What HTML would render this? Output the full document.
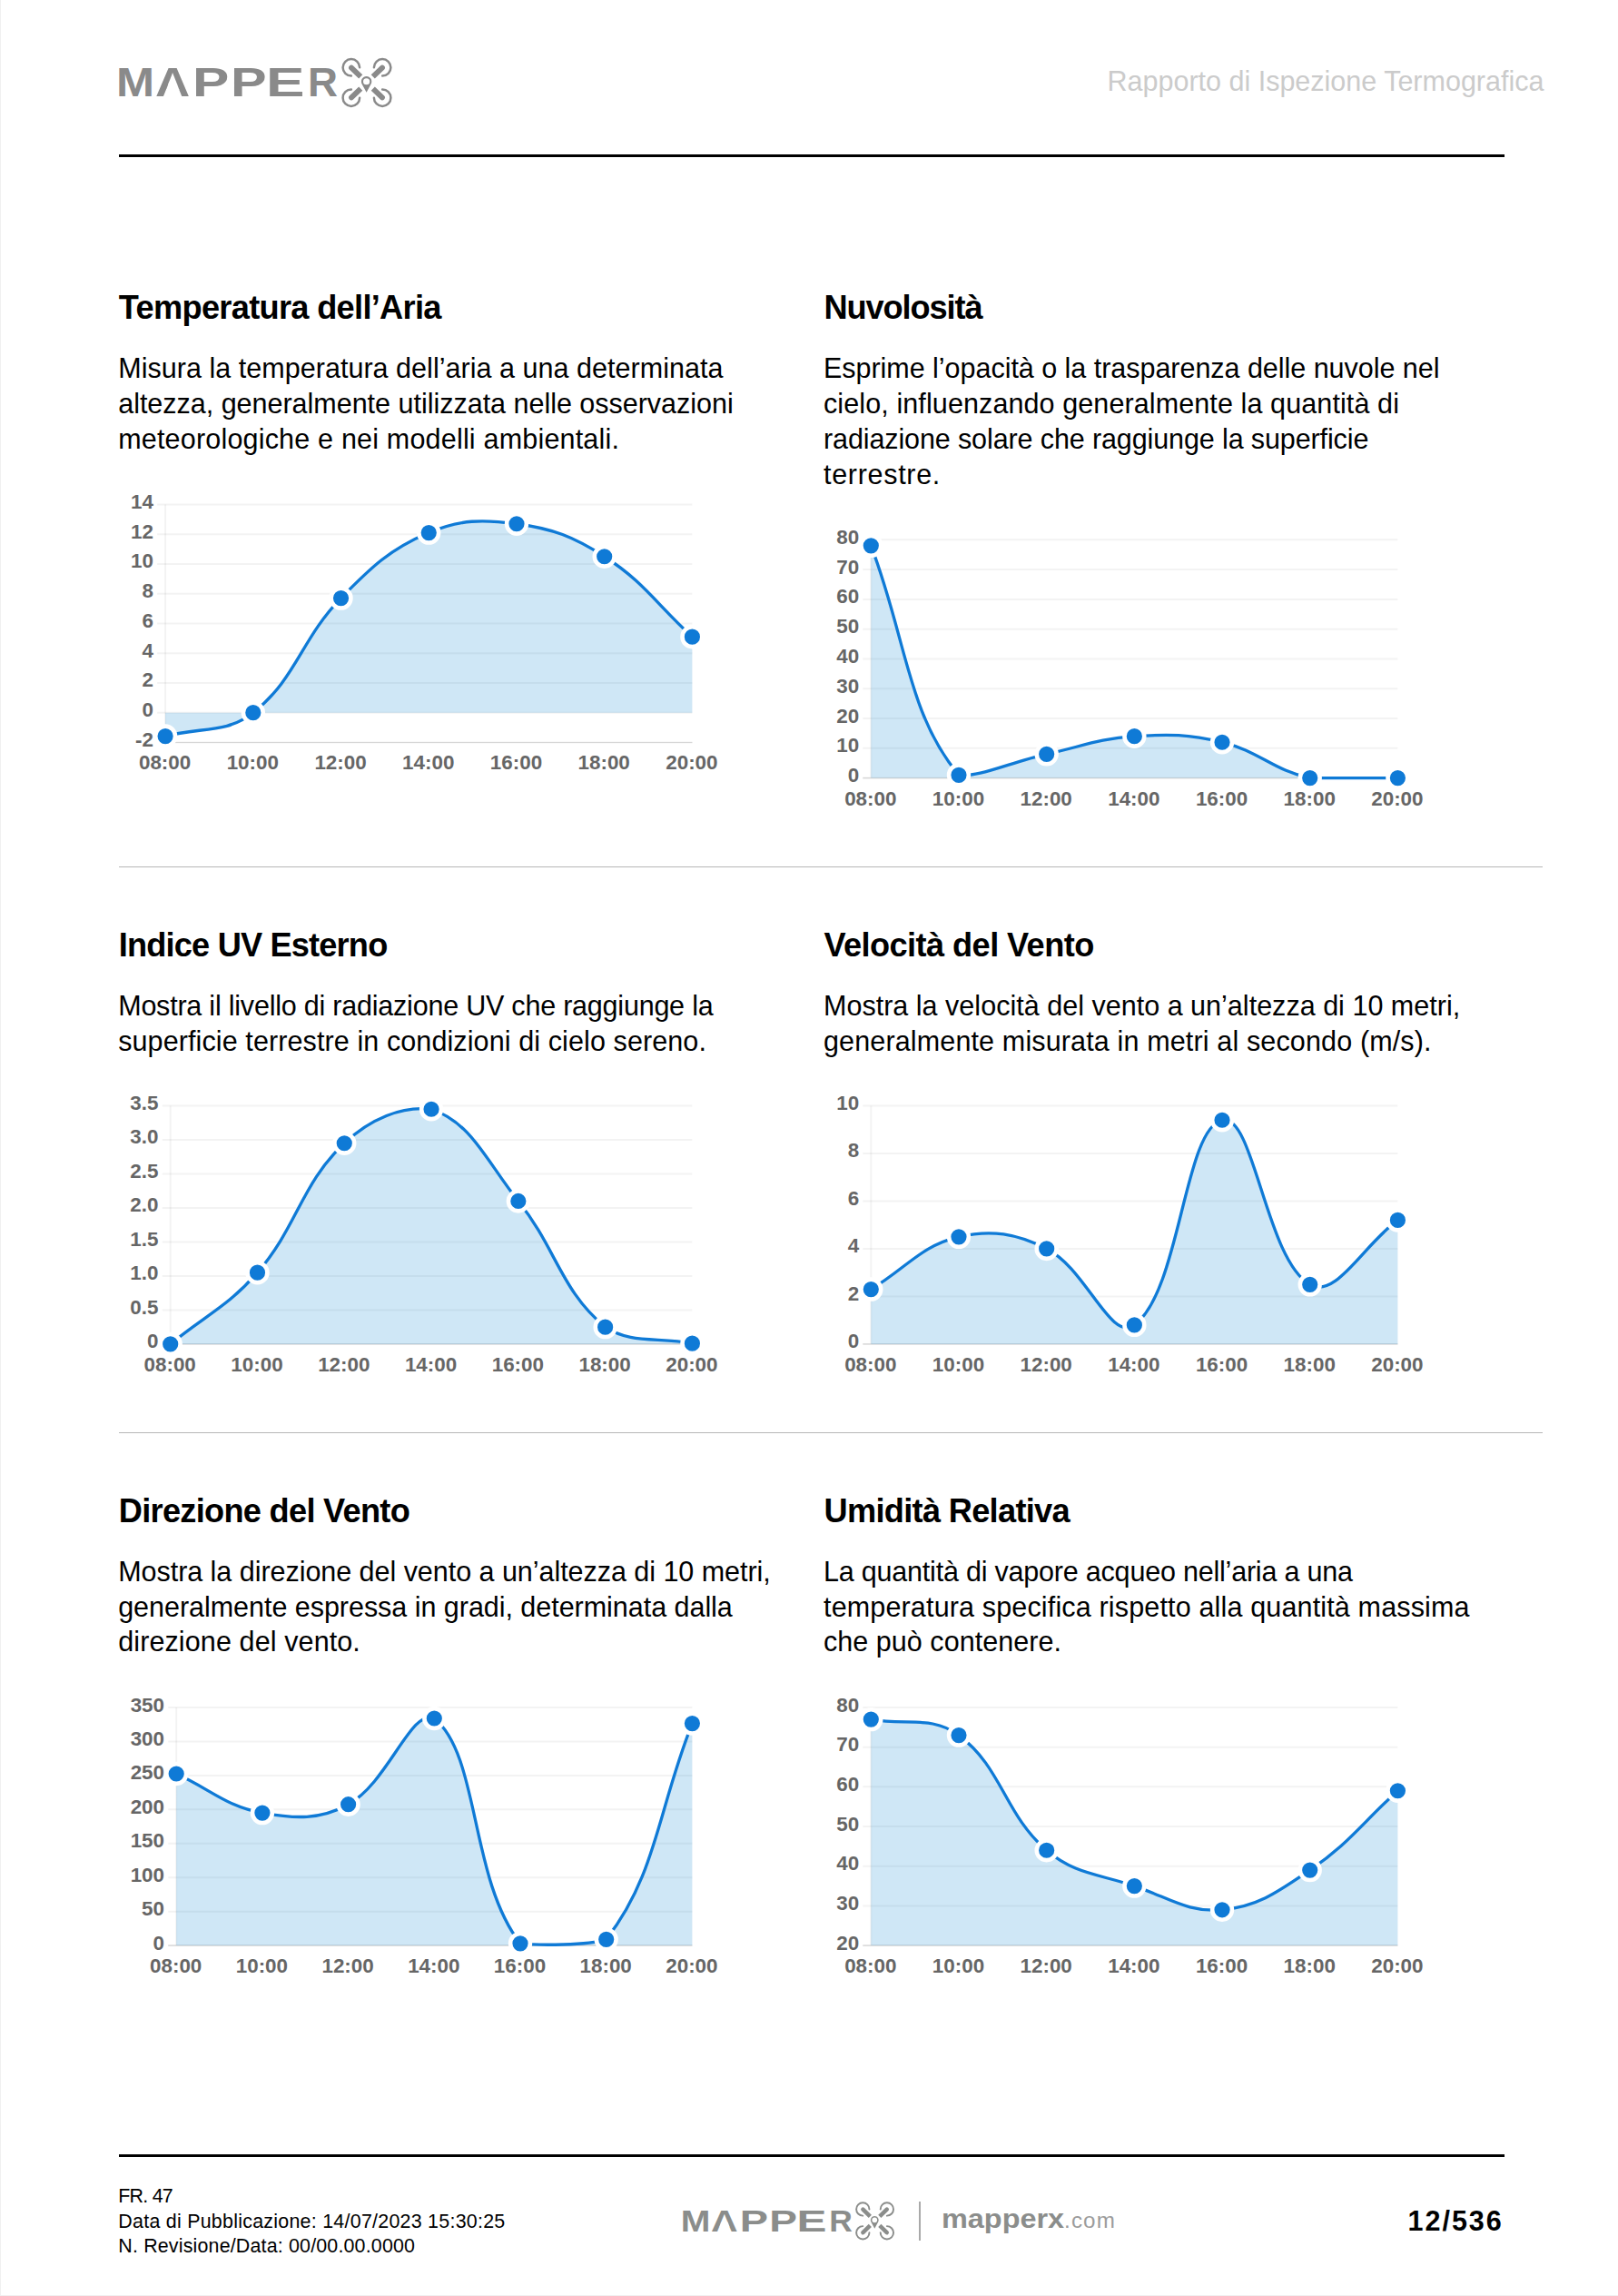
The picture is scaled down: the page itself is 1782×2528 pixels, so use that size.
<!DOCTYPE html>
<html lang="it"><head><meta charset="utf-8"><title>Rapporto di Ispezione Termografica</title>
<style>
html,body{margin:0;padding:0;background:#fff;}
h2,p{margin:0;padding:0;font-size:inherit;font-weight:inherit;}
body{width:1782px;height:2528px;position:relative;overflow:hidden;font-family:'Liberation Sans',Arial,Helvetica,sans-serif;color:#000;}
.page{position:absolute;left:0;top:0;width:1781px;height:2527px;border-left:1px solid #f0f0f0;border-bottom:1px solid #f0f0f0;box-sizing:content-box;}
.t{position:absolute;white-space:nowrap;margin:0;padding:0;}
.h{font-weight:700;}
.abs,.chart{position:absolute;overflow:visible;}
.rule{position:absolute;background:#000;height:3px;}
.sep{position:absolute;background:#b7b7b7;height:1.2px;}
.logo{position:absolute;width:0;height:0;font-weight:700;transform-origin:0 0;}
.logo .lw span{position:absolute;transform-origin:0 0;white-space:nowrap;}
</style></head><body><div class="page"></div>

<header>
<div class="logo" style="left:131.20px;top:106.00px;transform:scale(1.0);color:#8a8a8a"><span class="lw"><span style="left:-3.38px;top:-40.11px;font-size:43.6px;line-height:50px;transform:scaleX(1.158)">M</span><span style="left:40.08px;top:-40.11px;font-size:43.6px;line-height:50px;transform:scaleX(1.214)">A</span><span style="left:81.06px;top:-40.11px;font-size:43.6px;line-height:50px;transform:scaleX(1.386)">P</span><span style="left:123.13px;top:-40.11px;font-size:43.6px;line-height:50px;transform:scaleX(1.362)">P</span><span style="left:161.94px;top:-40.11px;font-size:43.6px;line-height:50px;transform:scaleX(1.460)">E</span><span style="left:208.04px;top:-40.11px;font-size:43.6px;line-height:50px;transform:scaleX(1.048)">R</span></span><svg style="position:absolute;left:0;top:-40px;overflow:visible" width="250" height="50" viewBox="0 -40 250 50"><polygon points="51.94,-6.94 66.44,-6.94 64.11,-13.16 54.27,-13.16" fill="#fff"/></svg><svg style="position:absolute;left:245.30px;top:-43.45px;overflow:visible" width="56" height="56" viewBox="-28 -28 56 56"><g fill="none" stroke="#8a8a8a" stroke-width="2.5" stroke-linecap="round"><path d="M-7.899999999999999,-16.65 A9.25,9.25 0 1 0 -17.15,-7.399999999999999"/><path d="M7.899999999999999,-16.65 A9.25,9.25 0 1 1 17.15,-7.399999999999999"/><path d="M-7.899999999999999,16.65 A9.25,9.25 0 1 1 -17.15,7.399999999999999"/><path d="M7.899999999999999,16.65 A9.25,9.25 0 1 0 17.15,7.399999999999999"/></g><g fill="#8a8a8a"><path d="M9.4,-2.95 L23.6,-2.95 A2.95,2.95 0 0 1 23.6,2.95 L9.4,2.95 Z" transform="rotate(44)"/><path d="M9.4,-2.95 L23.6,-2.95 A2.95,2.95 0 0 1 23.6,2.95 L9.4,2.95 Z" transform="rotate(136)"/><path d="M9.4,-2.95 L23.6,-2.95 A2.95,2.95 0 0 1 23.6,2.95 L9.4,2.95 Z" transform="rotate(224)"/><path d="M9.4,-2.95 L23.6,-2.95 A2.95,2.95 0 0 1 23.6,2.95 L9.4,2.95 Z" transform="rotate(316)"/><path d="M-0.4,10.65 L-5.40,1.48 A5.7,5.7 0 1 1 4.60,1.48 Z" stroke="#fff" stroke-width="2" paint-order="stroke" stroke-linejoin="round"/><circle cx="-0.4" cy="-1.25" r="3.6" fill="#fff"/></g></svg></div>
<span class="t " style="left:1219.5px;top:71px;font-size:30.5px;line-height:36px;letter-spacing:0.000px;color:#cbcbcb;">Rapporto di Ispezione Termografica</span>
<div class="rule" style="left:130.6px;top:170px;width:1526.4px"></div>
</header>
<section>
<h2><span class="t h" style="left:130.8px;top:317px;font-size:36.2px;line-height:43px;letter-spacing:-0.685px;">Temperatura dell’Aria</span></h2>
<p>
<span class="t " style="left:130.2px;top:387px;font-size:30.5px;line-height:36px;letter-spacing:0.036px;">Misura la temperatura dell’aria a una determinata</span>
<span class="t " style="left:130.2px;top:426px;font-size:30.5px;line-height:36px;letter-spacing:-0.012px;">altezza, generalmente utilizzata nelle osservazioni</span>
<span class="t " style="left:130.2px;top:465px;font-size:30.5px;line-height:36px;letter-spacing:0.193px;">meteorologiche e nei modelli ambientali.</span>
</p>
<svg class="chart" style="left:102px;top:525px" width="731" height="352" viewBox="0 0 731 352">
<g stroke="rgba(0,0,0,0.047)" stroke-width="2" fill="none">
<line x1="71.1" y1="30.45" x2="660.4" y2="30.45"/>
<line x1="71.1" y1="63.20" x2="660.4" y2="63.20"/>
<line x1="71.1" y1="95.95" x2="660.4" y2="95.95"/>
<line x1="71.1" y1="128.70" x2="660.4" y2="128.70"/>
<line x1="71.1" y1="161.45" x2="660.4" y2="161.45"/>
<line x1="71.1" y1="194.20" x2="660.4" y2="194.20"/>
<line x1="71.1" y1="226.95" x2="660.4" y2="226.95"/>
<line x1="71.1" y1="259.70" x2="660.4" y2="259.70"/>
<line x1="71.1" y1="292.45" x2="660.4" y2="292.45"/>
<line x1="80.1" y1="30.5" x2="80.1" y2="292.5"/>
</g>
<line x1="71.1" y1="292.45" x2="660.4" y2="292.45" stroke="#d6d6d6" stroke-width="1.1"/>
<path d="M80.10,285.57 C118.79,275.22 146.91,283.19 176.82,259.70 C224.28,222.41 229.54,178.67 273.53,133.61 C306.92,99.42 327.41,79.70 370.25,61.56 C404.78,46.95 429.44,46.65 466.97,51.74 C506.81,57.13 529.59,65.83 563.68,87.76 C606.97,115.61 621.71,140.82 660.40,176.19 L660.40,259.70 L80.10,259.70 Z" fill="rgba(15,135,212,0.2)"/>
<path d="M80.10,285.57 C118.79,275.22 146.91,283.19 176.82,259.70 C224.28,222.41 229.54,178.67 273.53,133.61 C306.92,99.42 327.41,79.70 370.25,61.56 C404.78,46.95 429.44,46.65 466.97,51.74 C506.81,57.13 529.59,65.83 563.68,87.76 C606.97,115.61 621.71,140.82 660.40,176.19" fill="none" stroke="#0f7ad6" stroke-width="3.3" stroke-linecap="butt" stroke-linejoin="round"/>
<circle cx="80.10" cy="285.57" r="10.9" fill="#0f7ad6" stroke="#fff" stroke-width="4.6"/>
<circle cx="176.82" cy="259.70" r="10.9" fill="#0f7ad6" stroke="#fff" stroke-width="4.6"/>
<circle cx="273.53" cy="133.61" r="10.9" fill="#0f7ad6" stroke="#fff" stroke-width="4.6"/>
<circle cx="370.25" cy="61.56" r="10.9" fill="#0f7ad6" stroke="#fff" stroke-width="4.6"/>
<circle cx="466.97" cy="51.74" r="10.9" fill="#0f7ad6" stroke="#fff" stroke-width="4.6"/>
<circle cx="563.68" cy="87.76" r="10.9" fill="#0f7ad6" stroke="#fff" stroke-width="4.6"/>
<circle cx="660.40" cy="176.19" r="10.9" fill="#0f7ad6" stroke="#fff" stroke-width="4.6"/>
<g font-family="'Liberation Sans', Arial, Helvetica, sans-serif" font-weight="700" font-size="22.4" fill="#666">
<text x="66.9" y="34.95" text-anchor="end">14</text>
<text x="66.9" y="67.70" text-anchor="end">12</text>
<text x="66.9" y="100.45" text-anchor="end">10</text>
<text x="66.9" y="133.20" text-anchor="end">8</text>
<text x="66.9" y="165.95" text-anchor="end">6</text>
<text x="66.9" y="198.70" text-anchor="end">4</text>
<text x="66.9" y="231.45" text-anchor="end">2</text>
<text x="66.9" y="264.20" text-anchor="end">0</text>
<text x="66.9" y="296.95" text-anchor="end">-2</text>
<text x="79.60" y="322.45" text-anchor="middle">08:00</text>
<text x="176.32" y="322.45" text-anchor="middle">10:00</text>
<text x="273.03" y="322.45" text-anchor="middle">12:00</text>
<text x="369.75" y="322.45" text-anchor="middle">14:00</text>
<text x="466.47" y="322.45" text-anchor="middle">16:00</text>
<text x="563.18" y="322.45" text-anchor="middle">18:00</text>
<text x="659.90" y="322.45" text-anchor="middle">20:00</text>
</g></svg>
</section>
<section>
<h2><span class="t h" style="left:907.5px;top:317px;font-size:36.2px;line-height:43px;letter-spacing:-1.098px;">Nuvolosità</span></h2>
<p>
<span class="t " style="left:907.0px;top:387px;font-size:30.5px;line-height:36px;letter-spacing:-0.028px;">Esprime l’opacità o la trasparenza delle nuvole nel</span>
<span class="t " style="left:907.0px;top:426px;font-size:30.5px;line-height:36px;letter-spacing:0.105px;">cielo, influenzando generalmente la quantità di</span>
<span class="t " style="left:907.0px;top:465px;font-size:30.5px;line-height:36px;letter-spacing:-0.112px;">radiazione solare che raggiunge la superficie</span>
<span class="t " style="left:907.0px;top:504px;font-size:30.5px;line-height:36px;letter-spacing:0.702px;">terrestre.</span>
</p>
<svg class="chart" style="left:879px;top:564px" width="731" height="353" viewBox="0 0 731 353">
<g stroke="rgba(0,0,0,0.047)" stroke-width="2" fill="none">
<line x1="71.3" y1="30.30" x2="660.4" y2="30.30"/>
<line x1="71.3" y1="63.09" x2="660.4" y2="63.09"/>
<line x1="71.3" y1="95.88" x2="660.4" y2="95.88"/>
<line x1="71.3" y1="128.66" x2="660.4" y2="128.66"/>
<line x1="71.3" y1="161.45" x2="660.4" y2="161.45"/>
<line x1="71.3" y1="194.24" x2="660.4" y2="194.24"/>
<line x1="71.3" y1="227.02" x2="660.4" y2="227.02"/>
<line x1="71.3" y1="259.81" x2="660.4" y2="259.81"/>
<line x1="71.3" y1="292.60" x2="660.4" y2="292.60"/>
<line x1="80.3" y1="30.3" x2="80.3" y2="292.6"/>
</g>
<line x1="71.3" y1="292.60" x2="660.4" y2="292.60" stroke="#d6d6d6" stroke-width="1.1"/>
<path d="M80.30,36.86 C118.97,137.84 120.43,222.19 176.98,289.32 C197.77,292.60 234.86,274.93 273.67,266.37 C312.20,257.88 331.33,249.34 370.35,246.70 C408.68,244.10 429.80,244.42 467.03,253.25 C507.14,262.78 523.56,284.43 563.72,292.60 C600.91,292.60 621.73,292.60 660.40,292.60 L660.40,292.60 L80.30,292.60 Z" fill="rgba(15,135,212,0.2)"/>
<path d="M80.30,36.86 C118.97,137.84 120.43,222.19 176.98,289.32 C197.77,292.60 234.86,274.93 273.67,266.37 C312.20,257.88 331.33,249.34 370.35,246.70 C408.68,244.10 429.80,244.42 467.03,253.25 C507.14,262.78 523.56,284.43 563.72,292.60 C600.91,292.60 621.73,292.60 660.40,292.60" fill="none" stroke="#0f7ad6" stroke-width="3.3" stroke-linecap="butt" stroke-linejoin="round"/>
<circle cx="80.30" cy="36.86" r="10.9" fill="#0f7ad6" stroke="#fff" stroke-width="4.6"/>
<circle cx="176.98" cy="289.32" r="10.9" fill="#0f7ad6" stroke="#fff" stroke-width="4.6"/>
<circle cx="273.67" cy="266.37" r="10.9" fill="#0f7ad6" stroke="#fff" stroke-width="4.6"/>
<circle cx="370.35" cy="246.70" r="10.9" fill="#0f7ad6" stroke="#fff" stroke-width="4.6"/>
<circle cx="467.03" cy="253.25" r="10.9" fill="#0f7ad6" stroke="#fff" stroke-width="4.6"/>
<circle cx="563.72" cy="292.60" r="10.9" fill="#0f7ad6" stroke="#fff" stroke-width="4.6"/>
<circle cx="660.40" cy="292.60" r="10.9" fill="#0f7ad6" stroke="#fff" stroke-width="4.6"/>
<g font-family="'Liberation Sans', Arial, Helvetica, sans-serif" font-weight="700" font-size="22.4" fill="#666">
<text x="67.1" y="34.80" text-anchor="end">80</text>
<text x="67.1" y="67.59" text-anchor="end">70</text>
<text x="67.1" y="100.38" text-anchor="end">60</text>
<text x="67.1" y="133.16" text-anchor="end">50</text>
<text x="67.1" y="165.95" text-anchor="end">40</text>
<text x="67.1" y="198.74" text-anchor="end">30</text>
<text x="67.1" y="231.52" text-anchor="end">20</text>
<text x="67.1" y="264.31" text-anchor="end">10</text>
<text x="67.1" y="297.10" text-anchor="end">0</text>
<text x="79.80" y="322.60" text-anchor="middle">08:00</text>
<text x="176.48" y="322.60" text-anchor="middle">10:00</text>
<text x="273.17" y="322.60" text-anchor="middle">12:00</text>
<text x="369.85" y="322.60" text-anchor="middle">14:00</text>
<text x="466.53" y="322.60" text-anchor="middle">16:00</text>
<text x="563.22" y="322.60" text-anchor="middle">18:00</text>
<text x="659.90" y="322.60" text-anchor="middle">20:00</text>
</g></svg>
</section>
<section>
<h2><span class="t h" style="left:130.8px;top:1019px;font-size:36.2px;line-height:43px;letter-spacing:-0.827px;">Indice UV Esterno</span></h2>
<p>
<span class="t " style="left:130.2px;top:1089px;font-size:30.5px;line-height:36px;letter-spacing:-0.216px;">Mostra il livello di radiazione UV che raggiunge la</span>
<span class="t " style="left:130.2px;top:1128px;font-size:30.5px;line-height:36px;letter-spacing:0.104px;">superficie terrestre in condizioni di cielo sereno.</span>
</p>
<svg class="chart" style="left:107px;top:1187px" width="725" height="353" viewBox="0 0 725 353">
<g stroke="rgba(0,0,0,0.047)" stroke-width="2" fill="none">
<line x1="71.7" y1="30.50" x2="655.4" y2="30.50"/>
<line x1="71.7" y1="67.99" x2="655.4" y2="67.99"/>
<line x1="71.7" y1="105.47" x2="655.4" y2="105.47"/>
<line x1="71.7" y1="142.96" x2="655.4" y2="142.96"/>
<line x1="71.7" y1="180.44" x2="655.4" y2="180.44"/>
<line x1="71.7" y1="217.93" x2="655.4" y2="217.93"/>
<line x1="71.7" y1="255.41" x2="655.4" y2="255.41"/>
<line x1="71.7" y1="292.90" x2="655.4" y2="292.90"/>
<line x1="80.7" y1="30.5" x2="80.7" y2="292.9"/>
</g>
<line x1="71.7" y1="292.90" x2="655.4" y2="292.90" stroke="#d6d6d6" stroke-width="1.1"/>
<path d="M80.70,292.90 C119.01,261.41 144.35,251.28 176.48,214.18 C220.97,162.81 224.35,116.74 272.27,71.73 C300.98,44.77 335.51,30.50 368.05,34.25 C412.14,48.91 429.15,92.03 463.83,135.46 C505.78,187.99 511.06,234.44 559.62,274.16 C587.69,292.90 617.09,284.95 655.40,292.15 L655.40,292.90 L80.70,292.90 Z" fill="rgba(15,135,212,0.2)"/>
<path d="M80.70,292.90 C119.01,261.41 144.35,251.28 176.48,214.18 C220.97,162.81 224.35,116.74 272.27,71.73 C300.98,44.77 335.51,30.50 368.05,34.25 C412.14,48.91 429.15,92.03 463.83,135.46 C505.78,187.99 511.06,234.44 559.62,274.16 C587.69,292.90 617.09,284.95 655.40,292.15" fill="none" stroke="#0f7ad6" stroke-width="3.3" stroke-linecap="butt" stroke-linejoin="round"/>
<circle cx="80.70" cy="292.90" r="10.9" fill="#0f7ad6" stroke="#fff" stroke-width="4.6"/>
<circle cx="176.48" cy="214.18" r="10.9" fill="#0f7ad6" stroke="#fff" stroke-width="4.6"/>
<circle cx="272.27" cy="71.73" r="10.9" fill="#0f7ad6" stroke="#fff" stroke-width="4.6"/>
<circle cx="368.05" cy="34.25" r="10.9" fill="#0f7ad6" stroke="#fff" stroke-width="4.6"/>
<circle cx="463.83" cy="135.46" r="10.9" fill="#0f7ad6" stroke="#fff" stroke-width="4.6"/>
<circle cx="559.62" cy="274.16" r="10.9" fill="#0f7ad6" stroke="#fff" stroke-width="4.6"/>
<circle cx="655.40" cy="292.15" r="10.9" fill="#0f7ad6" stroke="#fff" stroke-width="4.6"/>
<g font-family="'Liberation Sans', Arial, Helvetica, sans-serif" font-weight="700" font-size="22.4" fill="#666">
<text x="67.5" y="35.00" text-anchor="end">3.5</text>
<text x="67.5" y="72.49" text-anchor="end">3.0</text>
<text x="67.5" y="109.97" text-anchor="end">2.5</text>
<text x="67.5" y="147.46" text-anchor="end">2.0</text>
<text x="67.5" y="184.94" text-anchor="end">1.5</text>
<text x="67.5" y="222.43" text-anchor="end">1.0</text>
<text x="67.5" y="259.91" text-anchor="end">0.5</text>
<text x="67.5" y="297.40" text-anchor="end">0</text>
<text x="80.20" y="322.90" text-anchor="middle">08:00</text>
<text x="175.98" y="322.90" text-anchor="middle">10:00</text>
<text x="271.77" y="322.90" text-anchor="middle">12:00</text>
<text x="367.55" y="322.90" text-anchor="middle">14:00</text>
<text x="463.33" y="322.90" text-anchor="middle">16:00</text>
<text x="559.12" y="322.90" text-anchor="middle">18:00</text>
<text x="654.90" y="322.90" text-anchor="middle">20:00</text>
</g></svg>
</section>
<section>
<h2><span class="t h" style="left:907.5px;top:1019px;font-size:36.2px;line-height:43px;letter-spacing:-0.585px;">Velocità del Vento</span></h2>
<p>
<span class="t " style="left:907.0px;top:1089px;font-size:30.5px;line-height:36px;letter-spacing:0.020px;">Mostra la velocità del vento a un’altezza di 10 metri,</span>
<span class="t " style="left:907.0px;top:1128px;font-size:30.5px;line-height:36px;letter-spacing:0.143px;">generalmente misurata in metri al secondo (m/s).</span>
</p>
<svg class="chart" style="left:879px;top:1187px" width="731" height="353" viewBox="0 0 731 353">
<g stroke="rgba(0,0,0,0.047)" stroke-width="2" fill="none">
<line x1="71.3" y1="30.50" x2="660.4" y2="30.50"/>
<line x1="71.3" y1="82.98" x2="660.4" y2="82.98"/>
<line x1="71.3" y1="135.46" x2="660.4" y2="135.46"/>
<line x1="71.3" y1="187.94" x2="660.4" y2="187.94"/>
<line x1="71.3" y1="240.42" x2="660.4" y2="240.42"/>
<line x1="71.3" y1="292.90" x2="660.4" y2="292.90"/>
<line x1="80.3" y1="30.5" x2="80.3" y2="292.9"/>
</g>
<line x1="71.3" y1="292.90" x2="660.4" y2="292.90" stroke="#d6d6d6" stroke-width="1.1"/>
<path d="M80.30,232.55 C118.97,209.46 135.54,184.38 176.98,174.82 C212.89,166.54 240.22,171.15 273.67,187.94 C317.57,209.98 343.84,291.34 370.35,271.91 C421.18,234.66 424.91,55.96 467.03,46.24 C502.25,38.12 514.89,199.47 563.72,227.30 C592.23,243.55 621.73,184.79 660.40,156.45 L660.40,292.90 L80.30,292.90 Z" fill="rgba(15,135,212,0.2)"/>
<path d="M80.30,232.55 C118.97,209.46 135.54,184.38 176.98,174.82 C212.89,166.54 240.22,171.15 273.67,187.94 C317.57,209.98 343.84,291.34 370.35,271.91 C421.18,234.66 424.91,55.96 467.03,46.24 C502.25,38.12 514.89,199.47 563.72,227.30 C592.23,243.55 621.73,184.79 660.40,156.45" fill="none" stroke="#0f7ad6" stroke-width="3.3" stroke-linecap="butt" stroke-linejoin="round"/>
<circle cx="80.30" cy="232.55" r="10.9" fill="#0f7ad6" stroke="#fff" stroke-width="4.6"/>
<circle cx="176.98" cy="174.82" r="10.9" fill="#0f7ad6" stroke="#fff" stroke-width="4.6"/>
<circle cx="273.67" cy="187.94" r="10.9" fill="#0f7ad6" stroke="#fff" stroke-width="4.6"/>
<circle cx="370.35" cy="271.91" r="10.9" fill="#0f7ad6" stroke="#fff" stroke-width="4.6"/>
<circle cx="467.03" cy="46.24" r="10.9" fill="#0f7ad6" stroke="#fff" stroke-width="4.6"/>
<circle cx="563.72" cy="227.30" r="10.9" fill="#0f7ad6" stroke="#fff" stroke-width="4.6"/>
<circle cx="660.40" cy="156.45" r="10.9" fill="#0f7ad6" stroke="#fff" stroke-width="4.6"/>
<g font-family="'Liberation Sans', Arial, Helvetica, sans-serif" font-weight="700" font-size="22.4" fill="#666">
<text x="67.1" y="35.00" text-anchor="end">10</text>
<text x="67.1" y="87.48" text-anchor="end">8</text>
<text x="67.1" y="139.96" text-anchor="end">6</text>
<text x="67.1" y="192.44" text-anchor="end">4</text>
<text x="67.1" y="244.92" text-anchor="end">2</text>
<text x="67.1" y="297.40" text-anchor="end">0</text>
<text x="79.80" y="322.90" text-anchor="middle">08:00</text>
<text x="176.48" y="322.90" text-anchor="middle">10:00</text>
<text x="273.17" y="322.90" text-anchor="middle">12:00</text>
<text x="369.85" y="322.90" text-anchor="middle">14:00</text>
<text x="466.53" y="322.90" text-anchor="middle">16:00</text>
<text x="563.22" y="322.90" text-anchor="middle">18:00</text>
<text x="659.90" y="322.90" text-anchor="middle">20:00</text>
</g></svg>
</section>
<section>
<h2><span class="t h" style="left:130.8px;top:1642px;font-size:36.2px;line-height:43px;letter-spacing:-0.711px;">Direzione del Vento</span></h2>
<p>
<span class="t " style="left:130.2px;top:1712px;font-size:30.5px;line-height:36px;letter-spacing:-0.036px;">Mostra la direzione del vento a un’altezza di 10 metri,</span>
<span class="t " style="left:130.2px;top:1751px;font-size:30.5px;line-height:36px;letter-spacing:-0.032px;">generalmente espressa in gradi, determinata dalla</span>
<span class="t " style="left:130.2px;top:1789px;font-size:30.5px;line-height:36px;letter-spacing:0.113px;">direzione del vento.</span>
</p>
<svg class="chart" style="left:114px;top:1850px" width="719" height="353" viewBox="0 0 719 353">
<g stroke="rgba(0,0,0,0.047)" stroke-width="2" fill="none">
<line x1="71.2" y1="30.00" x2="648.4" y2="30.00"/>
<line x1="71.2" y1="67.44" x2="648.4" y2="67.44"/>
<line x1="71.2" y1="104.89" x2="648.4" y2="104.89"/>
<line x1="71.2" y1="142.33" x2="648.4" y2="142.33"/>
<line x1="71.2" y1="179.77" x2="648.4" y2="179.77"/>
<line x1="71.2" y1="217.21" x2="648.4" y2="217.21"/>
<line x1="71.2" y1="254.66" x2="648.4" y2="254.66"/>
<line x1="71.2" y1="292.10" x2="648.4" y2="292.10"/>
<line x1="80.2" y1="30.0" x2="80.2" y2="292.1"/>
</g>
<line x1="71.2" y1="292.10" x2="648.4" y2="292.10" stroke="#d6d6d6" stroke-width="1.1"/>
<path d="M80.20,103.01 C118.08,120.24 135.33,139.03 174.90,146.07 C211.09,152.51 238.13,154.01 269.60,136.71 C313.89,112.37 338.89,30.00 364.30,41.98 C414.65,82.69 403.18,218.13 459.00,289.85 C478.94,292.10 533.22,292.10 553.70,285.36 C608.98,214.65 610.52,142.70 648.40,47.60 L648.40,292.10 L80.20,292.10 Z" fill="rgba(15,135,212,0.2)"/>
<path d="M80.20,103.01 C118.08,120.24 135.33,139.03 174.90,146.07 C211.09,152.51 238.13,154.01 269.60,136.71 C313.89,112.37 338.89,30.00 364.30,41.98 C414.65,82.69 403.18,218.13 459.00,289.85 C478.94,292.10 533.22,292.10 553.70,285.36 C608.98,214.65 610.52,142.70 648.40,47.60" fill="none" stroke="#0f7ad6" stroke-width="3.3" stroke-linecap="butt" stroke-linejoin="round"/>
<circle cx="80.20" cy="103.01" r="10.9" fill="#0f7ad6" stroke="#fff" stroke-width="4.6"/>
<circle cx="174.90" cy="146.07" r="10.9" fill="#0f7ad6" stroke="#fff" stroke-width="4.6"/>
<circle cx="269.60" cy="136.71" r="10.9" fill="#0f7ad6" stroke="#fff" stroke-width="4.6"/>
<circle cx="364.30" cy="41.98" r="10.9" fill="#0f7ad6" stroke="#fff" stroke-width="4.6"/>
<circle cx="459.00" cy="289.85" r="10.9" fill="#0f7ad6" stroke="#fff" stroke-width="4.6"/>
<circle cx="553.70" cy="285.36" r="10.9" fill="#0f7ad6" stroke="#fff" stroke-width="4.6"/>
<circle cx="648.40" cy="47.60" r="10.9" fill="#0f7ad6" stroke="#fff" stroke-width="4.6"/>
<g font-family="'Liberation Sans', Arial, Helvetica, sans-serif" font-weight="700" font-size="22.4" fill="#666">
<text x="67.0" y="34.50" text-anchor="end">350</text>
<text x="67.0" y="71.94" text-anchor="end">300</text>
<text x="67.0" y="109.39" text-anchor="end">250</text>
<text x="67.0" y="146.83" text-anchor="end">200</text>
<text x="67.0" y="184.27" text-anchor="end">150</text>
<text x="67.0" y="221.71" text-anchor="end">100</text>
<text x="67.0" y="259.16" text-anchor="end">50</text>
<text x="67.0" y="296.60" text-anchor="end">0</text>
<text x="79.70" y="322.10" text-anchor="middle">08:00</text>
<text x="174.40" y="322.10" text-anchor="middle">10:00</text>
<text x="269.10" y="322.10" text-anchor="middle">12:00</text>
<text x="363.80" y="322.10" text-anchor="middle">14:00</text>
<text x="458.50" y="322.10" text-anchor="middle">16:00</text>
<text x="553.20" y="322.10" text-anchor="middle">18:00</text>
<text x="647.90" y="322.10" text-anchor="middle">20:00</text>
</g></svg>
</section>
<section>
<h2><span class="t h" style="left:907.5px;top:1642px;font-size:36.2px;line-height:43px;letter-spacing:-0.693px;">Umidità Relativa</span></h2>
<p>
<span class="t " style="left:907.0px;top:1712px;font-size:30.5px;line-height:36px;letter-spacing:-0.206px;">La quantità di vapore acqueo nell’aria a una</span>
<span class="t " style="left:907.0px;top:1751px;font-size:30.5px;line-height:36px;letter-spacing:0.158px;">temperatura specifica rispetto alla quantità massima</span>
<span class="t " style="left:907.0px;top:1789px;font-size:30.5px;line-height:36px;letter-spacing:0.043px;">che può contenere.</span>
</p>
<svg class="chart" style="left:879px;top:1850px" width="731" height="353" viewBox="0 0 731 353">
<g stroke="rgba(0,0,0,0.047)" stroke-width="2" fill="none">
<line x1="71.3" y1="30.00" x2="660.4" y2="30.00"/>
<line x1="71.3" y1="73.68" x2="660.4" y2="73.68"/>
<line x1="71.3" y1="117.37" x2="660.4" y2="117.37"/>
<line x1="71.3" y1="161.05" x2="660.4" y2="161.05"/>
<line x1="71.3" y1="204.73" x2="660.4" y2="204.73"/>
<line x1="71.3" y1="248.42" x2="660.4" y2="248.42"/>
<line x1="71.3" y1="292.10" x2="660.4" y2="292.10"/>
<line x1="80.3" y1="30.0" x2="80.3" y2="292.1"/>
</g>
<line x1="71.3" y1="292.10" x2="660.4" y2="292.10" stroke="#d6d6d6" stroke-width="1.1"/>
<path d="M80.30,43.11 C118.97,50.09 147.48,38.59 176.98,60.58 C224.83,96.25 226.93,147.14 273.67,187.26 C304.28,213.54 330.88,213.20 370.35,226.57 C408.23,239.41 429.47,256.18 467.03,252.78 C506.82,249.19 529.00,232.63 563.72,209.10 C606.35,180.21 621.73,156.68 660.40,121.73 L660.40,292.10 L80.30,292.10 Z" fill="rgba(15,135,212,0.2)"/>
<path d="M80.30,43.11 C118.97,50.09 147.48,38.59 176.98,60.58 C224.83,96.25 226.93,147.14 273.67,187.26 C304.28,213.54 330.88,213.20 370.35,226.57 C408.23,239.41 429.47,256.18 467.03,252.78 C506.82,249.19 529.00,232.63 563.72,209.10 C606.35,180.21 621.73,156.68 660.40,121.73" fill="none" stroke="#0f7ad6" stroke-width="3.3" stroke-linecap="butt" stroke-linejoin="round"/>
<circle cx="80.30" cy="43.11" r="10.9" fill="#0f7ad6" stroke="#fff" stroke-width="4.6"/>
<circle cx="176.98" cy="60.58" r="10.9" fill="#0f7ad6" stroke="#fff" stroke-width="4.6"/>
<circle cx="273.67" cy="187.26" r="10.9" fill="#0f7ad6" stroke="#fff" stroke-width="4.6"/>
<circle cx="370.35" cy="226.57" r="10.9" fill="#0f7ad6" stroke="#fff" stroke-width="4.6"/>
<circle cx="467.03" cy="252.78" r="10.9" fill="#0f7ad6" stroke="#fff" stroke-width="4.6"/>
<circle cx="563.72" cy="209.10" r="10.9" fill="#0f7ad6" stroke="#fff" stroke-width="4.6"/>
<circle cx="660.40" cy="121.73" r="10.9" fill="#0f7ad6" stroke="#fff" stroke-width="4.6"/>
<g font-family="'Liberation Sans', Arial, Helvetica, sans-serif" font-weight="700" font-size="22.4" fill="#666">
<text x="67.1" y="34.50" text-anchor="end">80</text>
<text x="67.1" y="78.18" text-anchor="end">70</text>
<text x="67.1" y="121.87" text-anchor="end">60</text>
<text x="67.1" y="165.55" text-anchor="end">50</text>
<text x="67.1" y="209.23" text-anchor="end">40</text>
<text x="67.1" y="252.92" text-anchor="end">30</text>
<text x="67.1" y="296.60" text-anchor="end">20</text>
<text x="79.80" y="322.10" text-anchor="middle">08:00</text>
<text x="176.48" y="322.10" text-anchor="middle">10:00</text>
<text x="273.17" y="322.10" text-anchor="middle">12:00</text>
<text x="369.85" y="322.10" text-anchor="middle">14:00</text>
<text x="466.53" y="322.10" text-anchor="middle">16:00</text>
<text x="563.22" y="322.10" text-anchor="middle">18:00</text>
<text x="659.90" y="322.10" text-anchor="middle">20:00</text>
</g></svg>
</section>
<div class="sep" style="left:130.8px;top:953.85px;width:1568.1px"></div>
<div class="sep" style="left:130.8px;top:1577.05px;width:1568.1px"></div>
<footer>
<div class="rule" style="left:130.6px;top:2371.5px;width:1526.4px;height:3.15px"></div>
<span class="t " style="left:130.3px;top:2405px;font-size:21.4px;line-height:26px;letter-spacing:-0.750px;">FR. 47</span>
<span class="t " style="left:130.3px;top:2433px;font-size:21.4px;line-height:26px;letter-spacing:0.265px;">Data di Pubblicazione: 14/07/2023 15:30:25</span>
<span class="t " style="left:130.3px;top:2460px;font-size:21.4px;line-height:26px;letter-spacing:0.180px;">N. Revisione/Data: 00/00.00.0000</span>
<div class="logo" style="left:752.10px;top:2457.40px;transform:scale(0.775);color:#8b8d8b"><span class="lw"><span style="left:-3.38px;top:-40.11px;font-size:43.6px;line-height:50px;transform:scaleX(1.158)">M</span><span style="left:40.08px;top:-40.11px;font-size:43.6px;line-height:50px;transform:scaleX(1.214)">A</span><span style="left:81.06px;top:-40.11px;font-size:43.6px;line-height:50px;transform:scaleX(1.386)">P</span><span style="left:123.13px;top:-40.11px;font-size:43.6px;line-height:50px;transform:scaleX(1.362)">P</span><span style="left:161.94px;top:-40.11px;font-size:43.6px;line-height:50px;transform:scaleX(1.460)">E</span><span style="left:208.04px;top:-40.11px;font-size:43.6px;line-height:50px;transform:scaleX(1.048)">R</span></span><svg style="position:absolute;left:0;top:-40px;overflow:visible" width="250" height="50" viewBox="0 -40 250 50"><polygon points="51.94,-6.94 66.44,-6.94 64.11,-13.16 54.27,-13.16" fill="#fff"/></svg><svg style="position:absolute;left:245.30px;top:-43.45px;overflow:visible" width="56" height="56" viewBox="-28 -28 56 56"><g fill="none" stroke="#8b8d8b" stroke-width="2.5" stroke-linecap="round"><path d="M-7.899999999999999,-16.65 A9.25,9.25 0 1 0 -17.15,-7.399999999999999"/><path d="M7.899999999999999,-16.65 A9.25,9.25 0 1 1 17.15,-7.399999999999999"/><path d="M-7.899999999999999,16.65 A9.25,9.25 0 1 1 -17.15,7.399999999999999"/><path d="M7.899999999999999,16.65 A9.25,9.25 0 1 0 17.15,7.399999999999999"/></g><g fill="#8b8d8b"><path d="M9.4,-2.95 L23.6,-2.95 A2.95,2.95 0 0 1 23.6,2.95 L9.4,2.95 Z" transform="rotate(44)"/><path d="M9.4,-2.95 L23.6,-2.95 A2.95,2.95 0 0 1 23.6,2.95 L9.4,2.95 Z" transform="rotate(136)"/><path d="M9.4,-2.95 L23.6,-2.95 A2.95,2.95 0 0 1 23.6,2.95 L9.4,2.95 Z" transform="rotate(224)"/><path d="M9.4,-2.95 L23.6,-2.95 A2.95,2.95 0 0 1 23.6,2.95 L9.4,2.95 Z" transform="rotate(316)"/><path d="M-0.4,10.65 L-5.40,1.48 A5.7,5.7 0 1 1 4.60,1.48 Z" stroke="#fff" stroke-width="2" paint-order="stroke" stroke-linejoin="round"/><circle cx="-0.4" cy="-1.25" r="3.6" fill="#fff"/></g></svg></div>
<div class="abs" style="left:1012.4px;top:2424.1px;width:1.8px;height:42.6px;background:#a9a9a9"></div>
<div class="site"><span class="t" style="left:1036.65px;top:2426px;font-size:28.7px;line-height:34px;font-weight:700;color:#8b8d8b;transform-origin:0 0;transform:scaleX(1.13)">mapperx</span><span class="t" style="left:1172.12px;top:2430px;font-size:24.2px;line-height:29px;letter-spacing:1.1px;color:#9c9c9c">.com</span></div>
<span class="t h" style="left:1550.5px;top:2427px;font-size:30.5px;line-height:36px;letter-spacing:2.000px;">12/536</span>
</footer>
</body></html>
